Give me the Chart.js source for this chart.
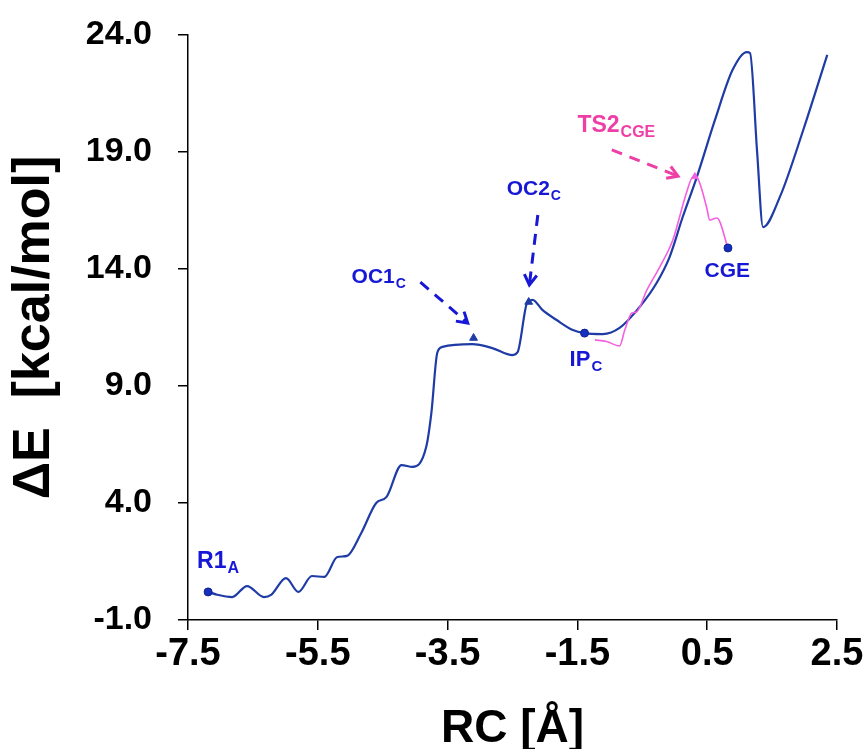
<!DOCTYPE html>
<html>
<head>
<meta charset="utf-8">
<script src="https://cdn.jsdelivr.net/npm/chart.js@4"></script>
<style>
  html, body { margin: 0; padding: 0; background: #fff; }
  #wrap { width: 865px; height: 749px; position: relative; }
</style>
</head>
<body>
<div id="wrap"><canvas id="energyChart"></canvas></div>
<script>
// Data - RC in Angstrom, energy in kcal/mol
const rcMain = [-7.19, -7.05, -6.82, -6.59, -6.33, -6.22, -5.99, -5.80, -5.59, -5.40,
    -5.20, -5.05, -4.83, -4.60, -4.44, -4.21, -4.04, -3.83, -3.75, -3.66,
    -3.58, -3.12, -2.81, -2.50, -2.42, -2.27, -2.19, -2.04, -1.82, -1.57,
    -1.39, -1.11, -0.85, -0.54, -0.28, -0.08, 0.12, 0.34, 0.62, 0.89,
    1.11, 1.16, 1.27, 1.36, 1.62, 1.98, 2.35];
const energyMain = [0.20, 0.08, -0.02, 0.45, -0.02, 0.07, 0.79, 0.20, 0.88, 0.84,
    1.69, 1.74, 2.72, 4.00, 4.26, 5.62, 5.54, 6.39, 7.85, 10.41,
    10.67, 10.79, 10.62, 10.32, 10.45, 12.59, 12.68, 12.25, 11.82, 11.39,
    11.26, 11.22, 11.48, 12.38, 13.40, 14.51, 16.20, 17.93, 20.37, 22.50,
    23.27, 23.23, 18.96, 15.79, 17.08, 19.94, 23.15];

const rcCGE = [-1.23, -1.05, -0.85, -0.77, -0.66, -0.59, -0.43, -0.23, -0.03, 0.18,
    0.28, 0.34, 0.49, 0.54, 0.65, 0.82];
const energyCGE = [10.97, 10.90, 10.71, 11.39, 12.12, 12.16, 13.10, 14.09, 15.24, 17.25,
    17.93, 17.90, 16.65, 16.09, 16.18, 14.90];

// stationary points: R1A, IPC, CGE (circles) / OC1C, OC2C (triangles)
const circleRC = [-7.19, -1.39, 0.82];
const circleE = [0.20, 11.26, 14.90];
const triRC = [-3.10, -2.25];
const triE = [11.05, 12.59];
const tsRC = [0.31];
const tsE = [17.95];

const xTicks = [-7.5, -5.5, -3.5, -1.5, 0.5, 2.5];
const yTicks = [-1, 4, 9, 14, 19, 24];

const BLUE_LINE = '#1f3ca6';
const BLUE_TEXT = '#1717d6';
const PINK_LINE = '#f560e0';
const PINK_TEXT = '#ee3fa6';

function toPoints(xs, ys) {
    return xs.map((v, i) => ({ x: v, y: ys[i] }));
}

// text labels (left / baseline in data units)
const labels = [
    { text: 'R1', sub: 'A', x: -7.36, y: 1.22, color: BLUE_TEXT, size: 23 },
    { text: 'OC1', sub: 'C', x: -4.98, y: 13.40, color: BLUE_TEXT, size: 21 },
    { text: 'OC2', sub: 'C', x: -2.59, y: 17.16, color: BLUE_TEXT, size: 21 },
    { text: 'IP', sub: 'C', x: -1.62, y: 9.85, color: BLUE_TEXT, size: 22 },
    { text: 'CGE', sub: '', x: 0.46, y: 13.66, color: BLUE_TEXT, size: 21 },
    { text: 'TS2', sub: 'CGE', x: -1.50, y: 19.85, color: PINK_TEXT, size: 23 }
];

const arrows = [
    { from: [-3.92, 13.44], to: [-3.19, 11.69], color: BLUE_TEXT },
    { from: [-2.11, 16.31], to: [-2.24, 13.32], color: BLUE_TEXT },
    { from: [-0.97, 19.09], to: [0.05, 17.97], color: PINK_TEXT }
];

const annotationPlugin = {
    id: 'annotations',
    afterDatasetsDraw(chart) {
        const { ctx, scales: { x, y } } = chart;
        ctx.save();
        arrows.forEach(a => {
            const x0 = x.getPixelForValue(a.from[0]);
            const y0 = y.getPixelForValue(a.from[1]);
            const x1 = x.getPixelForValue(a.to[0]);
            const y1 = y.getPixelForValue(a.to[1]);
            const ang = Math.atan2(y1 - y0, x1 - x0);
            ctx.strokeStyle = a.color;
            ctx.lineWidth = 3;
            ctx.setLineDash([11, 8]);
            ctx.beginPath();
            ctx.moveTo(x0, y0);
            ctx.lineTo(x1 - 3 * Math.cos(ang), y1 - 3 * Math.sin(ang));
            ctx.stroke();
            ctx.setLineDash([]);
            ctx.beginPath();
            ctx.moveTo(x1 - 12 * Math.cos(ang - 0.55), y1 - 12 * Math.sin(ang - 0.55));
            ctx.lineTo(x1, y1);
            ctx.lineTo(x1 - 12 * Math.cos(ang + 0.55), y1 - 12 * Math.sin(ang + 0.55));
            ctx.stroke();
        });
        labels.forEach(l => {
            const px = x.getPixelForValue(l.x);
            const py = y.getPixelForValue(l.y);
            ctx.fillStyle = l.color;
            ctx.textBaseline = 'alphabetic';
            ctx.textAlign = 'left';
            ctx.font = 'bold ' + l.size + 'px "Liberation Sans", Arial, sans-serif';
            ctx.fillText(l.text, px, py);
            if (l.sub) {
                const w = ctx.measureText(l.text).width;
                ctx.font = 'bold ' + Math.round(l.size * 0.68) + 'px "Liberation Sans", Arial, sans-serif';
                ctx.fillText(l.sub, px + w + 1, py + 5);
            }
        });
        ctx.restore();
    }
};

const config = {
    type: 'scatter',
    data: {
        datasets: [
            {
                label: 'circles',
                data: toPoints(circleRC, circleE),
                pointStyle: 'circle',
                pointRadius: 4,
                backgroundColor: '#1530c0',
                borderColor: '#10208a',
                borderWidth: 1,
                showLine: false
            },
            {
                label: 'triangles',
                data: toPoints(triRC, triE),
                pointStyle: 'triangle',
                pointRadius: 4.5,
                backgroundColor: '#1f3ca6',
                borderColor: '#1f3ca6',
                borderWidth: 1,
                showLine: false
            },
            {
                label: 'ts',
                data: toPoints(tsRC, tsE),
                pointStyle: 'triangle',
                pointRadius: 4,
                backgroundColor: PINK_LINE,
                borderColor: PINK_LINE,
                showLine: false
            },
            {
                label: 'CGE path',
                data: toPoints(rcCGE, energyCGE),
                showLine: true,
                borderColor: PINK_LINE,
                borderWidth: 1.6,
                pointRadius: 0,
                cubicInterpolationMode: 'monotone'
            },
            {
                label: 'main path',
                data: toPoints(rcMain, energyMain),
                showLine: true,
                borderColor: BLUE_LINE,
                borderWidth: 2.2,
                pointRadius: 0,
                cubicInterpolationMode: 'monotone'
            }
        ]
    },
    options: {
        responsive: true,
        maintainAspectRatio: false,
        animation: false,
        layout: { padding: { left: 0, top: 35, right: 28, bottom: 0 } },
        plugins: {
            legend: { display: false },
            tooltip: { enabled: false }
        },
        scales: {
            x: {
                type: 'linear',
                min: -7.5,
                max: 2.5,
                afterBuildTicks: s => { s.ticks = xTicks.map(v => ({ value: v })); },
                afterFit: s => { s.height = 129; s.paddingLeft = 0; s.paddingRight = 0; },
                ticks: {
                    color: '#000',
                    padding: 2,
                    autoSkip: false,
                    maxRotation: 0,
                    font: { family: '"Liberation Sans", Arial, sans-serif', size: 38, weight: 'bold' },
                    callback: v => v.toFixed(1)
                },
                grid: { drawOnChartArea: false, drawTicks: true, tickLength: 10, color: '#000', lineWidth: 1.5 },
                border: { display: true, color: '#000', width: 1.5 },
                title: {
                    display: true,
                    text: 'RC [Å]',
                    color: '#000',
                    padding: { top: 0, bottom: 0 },
                    font: { family: '"Liberation Sans", Arial, sans-serif', size: 46, weight: 'bold', lineHeight: 0.87 }
                }
            },
            y: {
                type: 'linear',
                min: -1,
                max: 24,
                afterBuildTicks: s => { s.ticks = yTicks.map(v => ({ value: v })); },
                afterFit: s => { s.width = 188; s.paddingTop = 0; s.paddingBottom = 0; },
                ticks: {
                    color: '#000',
                    padding: 26,
                    autoSkip: false,
                    font: { family: '"Liberation Sans", Arial, sans-serif', size: 34, weight: 'bold' },
                    callback: v => v.toFixed(1)
                },
                grid: { drawOnChartArea: false, drawTicks: true, tickLength: 10, color: '#000', lineWidth: 1.5 },
                border: { display: true, color: '#000', width: 1.5 },
                title: {
                    display: true,
                    text: 'ΔE  [kcal/mol]',
                    color: '#000',
                    padding: { top: 9, bottom: 0 },
                    font: { family: '"Liberation Sans", Arial, sans-serif', size: 52, weight: 'bold', lineHeight: 1 }
                }
            }
        }
    },
    plugins: [annotationPlugin]
};

const ctx = document.getElementById('energyChart').getContext('2d');
const energyChart = new Chart(ctx, config);
</script>
</body>
</html>
